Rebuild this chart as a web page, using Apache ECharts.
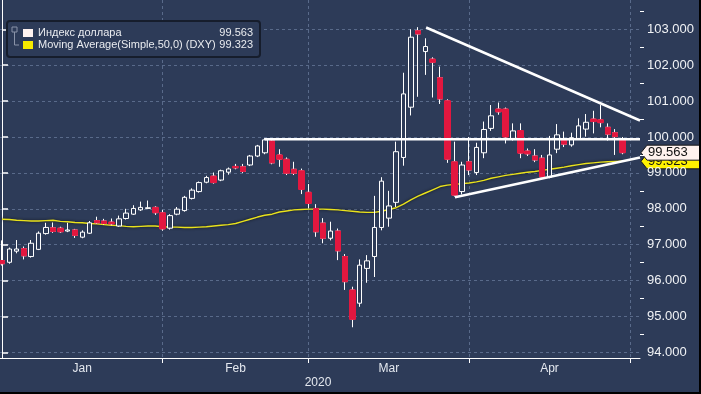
<!DOCTYPE html>
<html><head><meta charset="utf-8">
<script src="https://cdn.jsdelivr.net/npm/echarts@6/dist/echarts.min.js"></script>
<style>html,body{margin:0;padding:0;background:#2d3b58;}#c{width:701px;height:394px;}</style>
</head><body><div id="c"></div>
<script>
// trading days shown (Dec 31 2019 .. May 1 2020)
const dates = ['2019-12-31',
 '2020-01-02','2020-01-03','2020-01-06','2020-01-07','2020-01-08','2020-01-09','2020-01-10','2020-01-13','2020-01-14','2020-01-15','2020-01-16','2020-01-17','2020-01-20','2020-01-21','2020-01-22','2020-01-23','2020-01-24','2020-01-27','2020-01-28','2020-01-29','2020-01-30','2020-01-31',
 '2020-02-03','2020-02-04','2020-02-05','2020-02-06','2020-02-07','2020-02-10','2020-02-11','2020-02-12','2020-02-13','2020-02-14','2020-02-17','2020-02-18','2020-02-19','2020-02-20','2020-02-21','2020-02-24','2020-02-25','2020-02-26','2020-02-27','2020-02-28',
 '2020-03-02','2020-03-03','2020-03-04','2020-03-05','2020-03-06','2020-03-09','2020-03-10','2020-03-11','2020-03-12','2020-03-13','2020-03-16','2020-03-17','2020-03-18','2020-03-19','2020-03-20','2020-03-23','2020-03-24','2020-03-25','2020-03-26','2020-03-27','2020-03-30','2020-03-31',
 '2020-04-01','2020-04-02','2020-04-03','2020-04-06','2020-04-07','2020-04-08','2020-04-09','2020-04-10','2020-04-13','2020-04-14','2020-04-15','2020-04-16','2020-04-17','2020-04-20','2020-04-21','2020-04-22','2020-04-23','2020-04-24','2020-04-27','2020-04-28','2020-04-29','2020-04-30',
 '2020-05-01'];
const monthNames = ['Jan','Feb','Mar','Apr','May','Jun','Jul','Aug','Sep','Oct','Nov','Dec'];
const yearLabel = '2020';

const openP = [96.56,96.51,96.82,96.89,96.67,96.87,97.31,97.47,97.46,97.38,
 97.41,97.21,97.32,97.67,97.66,97.63,97.52,97.73,97.85,97.97,
 98.01,98.04,97.89,97.46,97.85,97.95,98.29,98.48,98.74,98.91,
 98.80,99.02,99.18,99.17,99.22,99.47,99.56,99.89,99.50,99.38,
 99.10,99.06,98.46,98.01,97.60,97.18,97.38,96.67,95.74,95.37,
 96.34,96.67,97.48,97.74,98.18,99.43,100.83,102.96,102.38,102.17,
 101.65,101.01,99.31,98.48,99.31,99.01,99.56,100.24,100.78,100.78,
 99.96,100.18,99.61,99.47,99.41,98.88,99.66,99.92,99.78,99.96,
 100.22,100.50,100.48,100.27,100.12,99.94];
const closeP = [96.47,96.88,96.88,96.69,97.04,97.32,97.48,97.37,97.36,97.41,
 97.26,97.35,97.61,97.61,97.59,97.58,97.72,97.88,98.01,98.04,
 98.03,97.89,97.44,97.81,97.99,98.32,98.52,98.73,98.87,98.73,
 99.06,99.11,99.14,99.04,99.47,99.75,99.92,99.28,99.38,98.99,
 98.99,98.54,98.15,97.36,97.18,97.38,96.83,95.97,94.92,96.43,
 96.55,97.48,98.77,98.08,99.59,101.20,102.78,102.87,102.52,102.08,
 101.06,99.38,98.38,99.22,99.08,99.71,100.21,100.59,100.70,100.00,
 100.17,99.55,99.53,99.36,98.89,99.50,100.06,99.80,99.98,100.31,
 100.41,100.43,100.40,100.08,100.01,99.563];
const lowP = [96.42,96.47,96.76,96.59,96.64,96.85,97.28,97.33,97.33,97.35,
 97.19,97.18,97.30,97.58,97.56,97.54,97.50,97.70,97.83,97.94,
 97.99,97.83,97.39,97.42,97.82,97.92,98.26,98.45,98.71,98.70,
 98.77,98.95,99.10,99.00,99.19,99.44,99.52,99.24,99.17,98.94,
 98.94,98.41,98.01,97.22,97.04,97.12,96.57,95.74,94.70,95.27,
 95.94,96.10,97.40,97.50,98.05,99.20,100.60,101.12,101.73,101.10,
 100.92,99.28,98.34,98.40,98.94,98.94,99.41,100.17,100.62,99.82,
 99.90,99.41,99.47,99.30,98.88,98.85,99.55,99.72,99.73,99.92,
 100.01,100.10,100.27,99.90,99.50,99.52];
const highP = [97.12,96.92,97.13,96.95,97.13,97.37,97.61,97.62,97.50,97.61,
 97.44,97.40,97.66,97.78,97.72,97.73,97.81,98.00,98.10,98.20,
 98.23,98.07,97.97,97.85,98.05,98.36,98.57,98.76,98.92,99.01,
 99.09,99.15,99.25,99.25,99.50,99.78,99.97,99.94,99.66,99.43,
 99.31,99.12,98.69,98.13,97.74,97.64,97.45,96.74,95.83,96.59,
 96.71,98.36,98.88,98.50,99.87,101.79,103.00,103.06,102.75,102.22,
 101.96,101.05,99.87,99.31,100.00,99.84,100.43,100.89,100.96,100.82,
 100.38,100.38,99.68,99.66,99.50,100.03,100.36,100.15,100.12,100.52,
 100.64,100.73,100.89,100.38,100.22,100.00];
const ma50 = [97.71,97.70,97.68,97.67,97.66,97.66,97.67,97.68,97.65,97.64,
 97.62,97.61,97.59,97.58,97.56,97.54,97.53,97.51,97.50,97.51,
 97.52,97.52,97.50,97.49,97.49,97.48,97.48,97.49,97.50,97.52,
 97.54,97.56,97.59,97.65,97.71,97.77,97.82,97.85,97.91,97.94,
 97.97,97.98,97.99,97.99,97.99,97.98,97.97,97.95,97.93,97.91,
 97.90,97.90,97.93,97.98,98.03,98.13,98.25,98.35,98.44,98.53,
 98.62,98.66,98.68,98.70,98.72,98.75,98.79,98.85,98.89,98.93,
 98.96,98.99,99.02,99.04,99.07,99.10,99.13,99.16,99.20,99.23,
 99.26,99.28,99.30,99.31,99.32,99.323];
// hand-drawn trend lines: [dayIndex, price]
const trendFlat = [[36,99.94],[87.4,99.94]];
const trendDown = [[58.1,103.05],[87.4,100.46]];
const trendUp = [[62.05,98.32],[87.4,99.43]];
const yTicks = [94,95,96,97,98,99,100,101,102,103];
const yHalfTicks = [94.5,95.5,96.5,97.5,98.5,99.5,100.5,101.5,102.5,103.5];
const seriesNames = ['Индекс доллара','Moving Average(Simple,50,0) (DXY)'];

const X_MIN = -0.27, X_MAX = 87.4, Y_MIN = 93.844, Y_MAX = 103.816;
const BG = '#2d3b58', GRID = 'rgba(125,145,180,0.55)', RED = '#e2173f';

// month ends (gridlines) and month label positions
const monthOf = d => +d.slice(5,7);
const ends = [];
for (let i = 0; i < dates.length - 1; i++) if (monthOf(dates[i+1]) !== monthOf(dates[i])) ends.push(i);
const monthEnds = ends.slice(1);
const labelPos = [], labelTxt = [];
for (let k = 1; k < ends.length; k++) { labelPos.push((ends[k-1] + ends[k]) / 2); labelTxt.push(monthNames[monthOf(dates[ends[k]]) - 1]); }

const n = closeP.length;
const candles = [], redBodies = [], maData = [];
for (let i = 0; i < n; i++) {
  candles.push([i, openP[i], closeP[i], lowP[i], highP[i]]);
  if (closeP[i] < openP[i]) redBodies.push([i, openP[i], closeP[i], closeP[i], openP[i]]);
  maData.push([i, ma50[i]]);
}
const FONT = 'Liberation Sans, Arial, sans-serif';
const chart = echarts.init(document.getElementById('c'), null, {renderer: 'canvas'});
const trendSeries = (d) => ({type: 'line', data: d, showSymbol: false, silent: true, z: 6,
  lineStyle: {color: '#ffffff', width: 2.5}, animation: false});
chart.setOption({
  backgroundColor: BG,
  animation: false,
  grid: {left: 0, right: 61, top: 0, bottom: 36, outerBoundsMode: 'none'},
  xAxis: {type: 'value', min: X_MIN, max: X_MAX,
    axisLine: {show: true, onZero: false, lineStyle: {color: '#ffffff', width: 1}},
    axisTick: {show: true, customValues: monthEnds, length: 5, lineStyle: {color: '#ffffff'}},
    axisLabel: {customValues: labelPos, color: '#e4e8ef', fontSize: 12, fontFamily: FONT, margin: 5,
      formatter: v => { const k = labelPos.findIndex(p => Math.abs(p - v) < 1e-6); return k >= 0 ? labelTxt[k] : ''; }},
    splitLine: {show: true, lineStyle: {color: GRID, type: [3, 3], width: 1}}
  },
  yAxis: [{type: 'value', position: 'right', min: Y_MIN, max: Y_MAX, scale: true,
    axisLine: {show: true, lineStyle: {color: '#ffffff', width: 1}},
    axisTick: {show: true, customValues: yTicks, length: 6, lineStyle: {color: '#ffffff', width: 1.5}},
    axisLabel: {customValues: yTicks, color: '#f0f2f5', fontSize: 13, fontFamily: FONT, margin: 7,
      formatter: v => v.toFixed(3)},
    splitLine: {show: true, lineStyle: {color: GRID, type: [3, 3], width: 1}}
  }, {type: 'value', position: 'right', min: Y_MIN, max: Y_MAX, scale: true,
    axisLine: {show: false},
    axisTick: {show: true, customValues: yHalfTicks, length: 4, lineStyle: {color: '#ffffff'}},
    axisLabel: {show: false}, splitLine: {show: false}
  }],
  series: [
    {type: 'line', name: seriesNames[1], data: maData, showSymbol: false, z: 3,
      lineStyle: {color: '#e9e21c', width: 1.4, shadowColor: 'rgba(10,10,0,0.8)', shadowBlur: 3}},
    {type: 'candlestick', name: seriesNames[0], data: candles, barWidth: 5, z: 4,
      dimensions: ['idx','open','close','lowest','highest'],
      encode: {x: 'idx', y: ['open','close','lowest','highest']},
      itemStyle: {color: BG, color0: RED, borderColor: '#ffffff', borderColor0: '#ffffff', borderWidth: 1}},
    {type: 'candlestick', data: redBodies, barWidth: 6, z: 5,
      dimensions: ['idx','open','close','lowest','highest'],
      encode: {x: 'idx', y: ['open','close','lowest','highest']},
      itemStyle: {color: RED, color0: RED, borderColor: RED, borderColor0: RED, borderWidth: 1}},
    trendSeries(trendFlat), trendSeries(trendDown), trendSeries(trendUp)
  ]
});

const ax = chart.convertToPixel({xAxisIndex: 0}, X_MAX);
const lastClose = closeP[n-1], lastMA = ma50[n-1];
const yW = chart.convertToPixel({yAxisIndex: 0}, lastClose);
const yY = chart.convertToPixel({yAxisIndex: 0}, lastMA);
const tag = (yc, fill, txt, z) => ({type: 'group', z: z, children: [
  {type: 'polygon', shape: {points: [[ax + 1, yc], [ax + 7, yc - 7.5], [701, yc - 7.5], [701, yc + 7.5], [ax + 7, yc + 7.5]]},
    style: {fill: fill, stroke: '#1a1a1a', lineWidth: 1}},
  {type: 'text', x: ax + 8, y: yc, style: {text: txt, fill: '#111111', font: '13px ' + FONT, textVerticalAlign: 'middle'}}
]});
const legendX = 7, legendY = 21;
chart.setOption({graphic: [
  tag(yY, '#fff200', lastMA.toFixed(3), 100),
  tag(yW, '#fff2ee', lastClose.toFixed(3), 101),
  {type: 'rect', z: 100, shape: {x: legendX, y: legendY, width: 253, height: 36, r: 3}, style: {fill: BG, stroke: '#161d2c', lineWidth: 2}},
  {type: 'rect', z: 101, shape: {x: 12, y: 27, width: 5, height: 5}, style: {fill: 'none', stroke: '#8a93a8', lineWidth: 1}},
  {type: 'polyline', z: 101, shape: {points: [[14.5, 32], [14.5, 45], [19, 45]]}, style: {stroke: '#8a93a8', lineWidth: 1, fill: 'none'}},
  {type: 'rect', z: 101, shape: {x: 23, y: 29, width: 10, height: 8}, style: {fill: '#fff3f0'}},
  {type: 'rect', z: 101, shape: {x: 23, y: 41, width: 10, height: 8}, style: {fill: '#f6ea00'}},
  {type: 'text', z: 101, x: 38, y: 33, style: {text: seriesNames[0], fill: '#e9ebef', font: '11px ' + FONT, textVerticalAlign: 'middle'}},
  {type: 'text', z: 101, x: 38, y: 45, style: {text: seriesNames[1], fill: '#e9ebef', font: '11px ' + FONT, textVerticalAlign: 'middle'}},
  {type: 'text', z: 101, x: 253, y: 33, style: {text: lastClose.toFixed(3), fill: '#e9ebef', font: '11px ' + FONT, textAlign: 'right', textVerticalAlign: 'middle'}},
  {type: 'text', z: 101, x: 253, y: 45, style: {text: lastMA.toFixed(3), fill: '#e9ebef', font: '11px ' + FONT, textAlign: 'right', textVerticalAlign: 'middle'}},
  {type: 'text', z: 101, x: 318, y: 383, style: {text: yearLabel, fill: '#e4e8ef', font: '12px ' + FONT, textAlign: 'center', textVerticalAlign: 'middle'}},
  {type: 'rect', z: 101, shape: {x: 0, y: 392, width: 701, height: 2}, style: {fill: '#000000'}},
  {type: 'rect', z: 101, shape: {x: 699, y: 0, width: 2, height: 394}, style: {fill: '#000000'}}
]});
</script></body></html>
